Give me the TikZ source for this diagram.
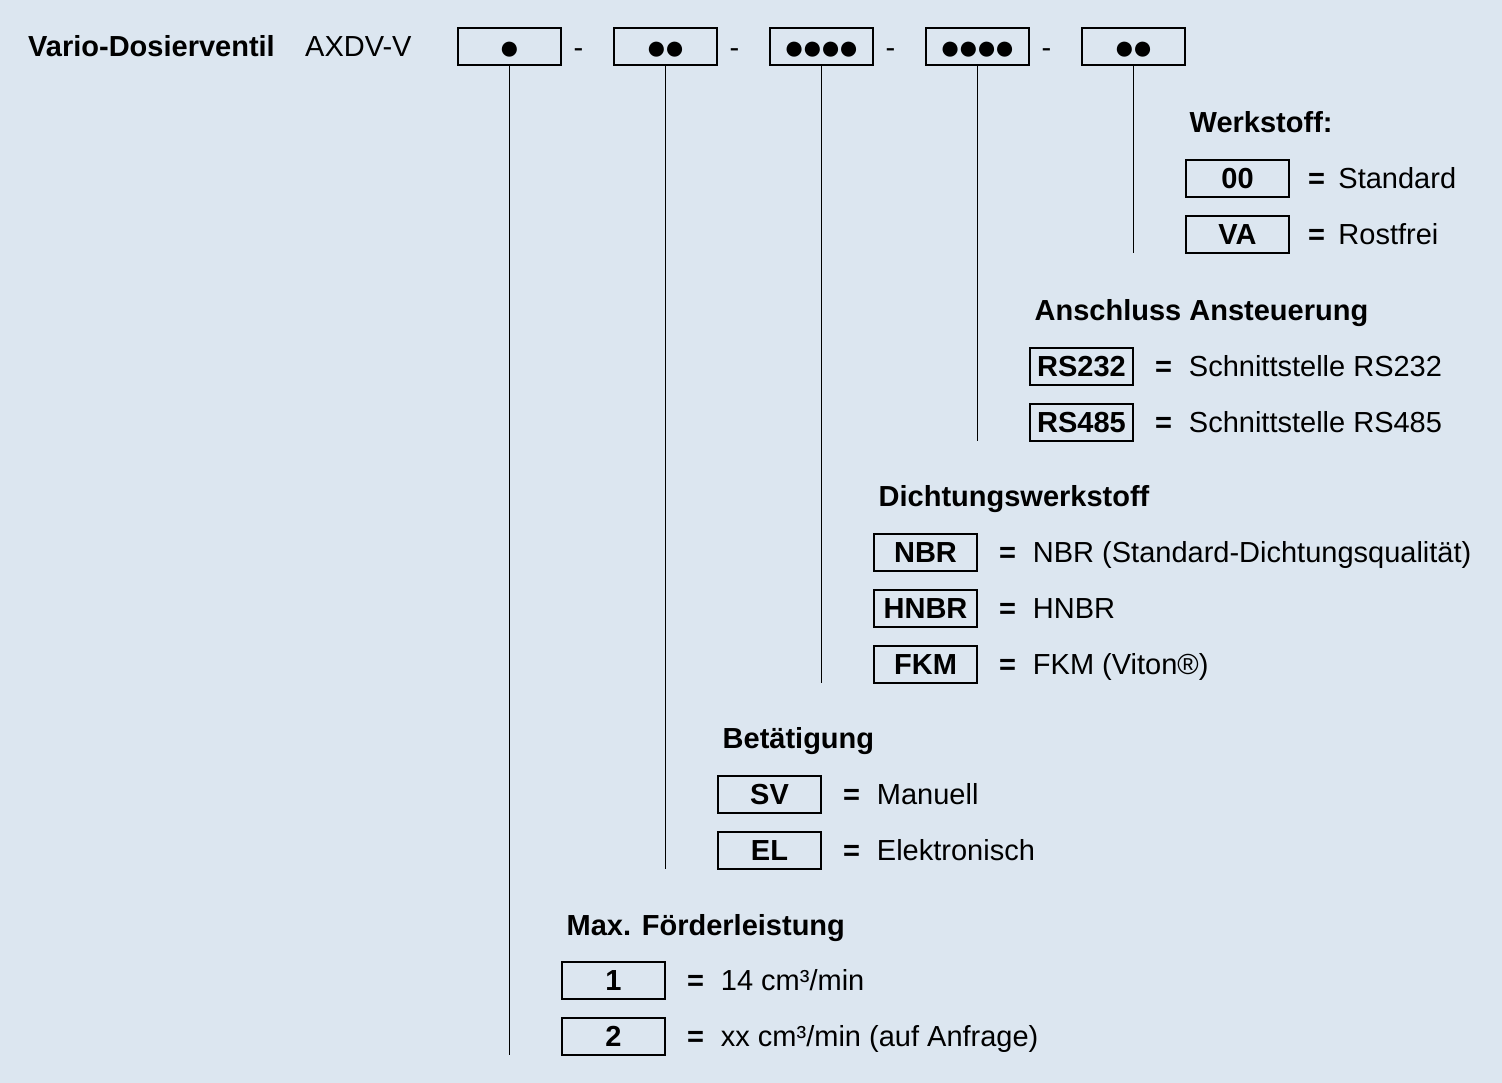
\documentclass[tikz,border=0pt]{standalone}
\usepackage{fontspec}
\setmainfont{Liberation Sans}
\usepackage{xcolor}
\usetikzlibrary{positioning}
\definecolor{hintergrund}{RGB}{220,230,240}

\begin{document}
\fontsize{29pt}{34pt}\selectfont
\begin{tikzpicture}[x=1pt,y=-1pt]

	\tikzstyle{feld} = [draw, line width=1.3pt, minimum width=103pt, minimum height=37pt, inner sep=0pt, outer sep=0pt]
	\tikzstyle{punkte} = [feld, text height=28pt, text depth=1.4pt, font=\fontsize{35pt}{40pt}\selectfont]
	\tikzstyle{code} = [feld, text height=22pt, text depth=1.6pt, font=\bfseries]
	\tikzstyle{gleich} = [inner sep=0pt, outer sep=0pt, text height=22pt, text depth=1.6pt, font=\bfseries]
	\tikzstyle{wert} = [inner sep=0pt, outer sep=0pt, text height=22pt, text depth=1.6pt]
	\tikzstyle{titel} = [inner sep=0pt, anchor=base west, font=\bfseries]
	\tikzstyle{strich} = [inner sep=0pt, outer sep=0pt, text height=22pt, text depth=0pt]
	\tikzstyle{linie} = [line width=1.3pt]

	\fill[hintergrund] (0,0) rectangle (1502,1083);
	\useasboundingbox (0,0) rectangle (1502,1083);

	% Typenschluessel
	\node[titel] (name) at (28,57) {Vario-Dosierventil};
	\node[inner sep=0pt, anchor=base west] (typ) at (305,57) {AXDV-V};
	\node[punkte] (k1) at (509.5,46.5) {●};
	\node[punkte, right=53pt of k1] (k2) {●\kern-3pt●};
	\node[punkte, right=53pt of k2] (k3) {●\kern-3pt●\kern-3pt●\kern-3pt●};
	\node[punkte, right=53pt of k3] (k4) {●\kern-3pt●\kern-3pt●\kern-3pt●};
	\node[punkte, right=53pt of k4] (k5) {●\kern-3pt●};
	\node[strich, right=12.5pt of k1] (s1) {-};
	\node[strich, right=12.5pt of k2] (s2) {-};
	\node[strich, right=12.5pt of k3] (s3) {-};
	\node[strich, right=12.5pt of k4] (s4) {-};

	% Werkstoff
	\node[titel] (t5) at (1189.5,133) {Werkstoff:};
	\node[code] (w1) at (1237.5,178.5) {00};
	\node[code, below=19pt of w1] (w2) {VA};
	\node[gleich, right=19pt of w1] (gw1) {=};
	\node[gleich, right=19pt of w2] (gw2) {=};
	\node[wert, right=13.5pt of gw1] (vw1) {Standard};
	\node[wert, right=13.5pt of gw2] (vw2) {Rostfrei};

	% Anschluss Ansteuerung
	\node[titel] (t4) at (1034.5,320.5) {Anschluss Ansteuerung};
	\node[code] (a1) at (1081.5,366.5) {RS232};
	\node[code, below=19pt of a1] (a2) {RS485};
	\node[gleich, right=22pt of a1] (ga1) {=};
	\node[gleich, right=22pt of a2] (ga2) {=};
	\node[wert, right=17pt of ga1] (va1) {Schnittstelle RS232};
	\node[wert, right=17pt of ga2] (va2) {Schnittstelle RS485};

	% Dichtungswerkstoff
	\node[titel] (t3) at (878.5,506.5) {Dichtungswerkstoff};
	\node[code] (d1) at (925.5,552.5) {NBR};
	\node[code, below=19pt of d1] (d2) {HNBR};
	\node[code, below=19pt of d2] (d3) {FKM};
	\node[gleich, right=22pt of d1] (gd1) {=};
	\node[gleich, right=22pt of d2] (gd2) {=};
	\node[gleich, right=22pt of d3] (gd3) {=};
	\node[wert, right=17pt of gd1] (vd1) {NBR (Standard-Dichtungsqualität)};
	\node[wert, right=17pt of gd2] (vd2) {HNBR};
	\node[wert, right=17pt of gd3] (vd3) {FKM (Viton®)};

	% Betaetigung
	\node[titel] (t2) at (722.5,748.5) {Betätigung};
	\node[code] (b1) at (769.5,794.5) {SV};
	\node[code, below=19pt of b1] (b2) {EL};
	\node[gleich, right=22pt of b1] (gb1) {=};
	\node[gleich, right=22pt of b2] (gb2) {=};
	\node[wert, right=17pt of gb1] (vb1) {Manuell};
	\node[wert, right=17pt of gb2] (vb2) {Elektronisch};

	% Max. Foerderleistung
	\node[titel] (t1) at (566.5,935) {Max. Förderleistung};
	\node[code] (m1) at (613.5,980.5) {1};
	\node[code, below=19pt of m1] (m2) {2};
	\node[gleich, right=22pt of m1] (gm1) {=};
	\node[gleich, right=22pt of m2] (gm2) {=};
	\node[wert, right=17pt of gm1] (vm1) {14 cm³/min};
	\node[wert, right=17pt of gm2] (vm2) {xx cm³/min (auf Anfrage)};

	% Linien
	\draw[linie] (k1.south) -- (k1 |- m2.south);
	\draw[linie] (k2.south) -- (k2 |- b2.south);
	\draw[linie] (k3.south) -- (k3 |- d3.south);
	\draw[linie] (k4.south) -- (k4 |- a2.south);
	\draw[linie] (k5.south) -- (k5 |- w2.south);

\end{tikzpicture}
\end{document}
